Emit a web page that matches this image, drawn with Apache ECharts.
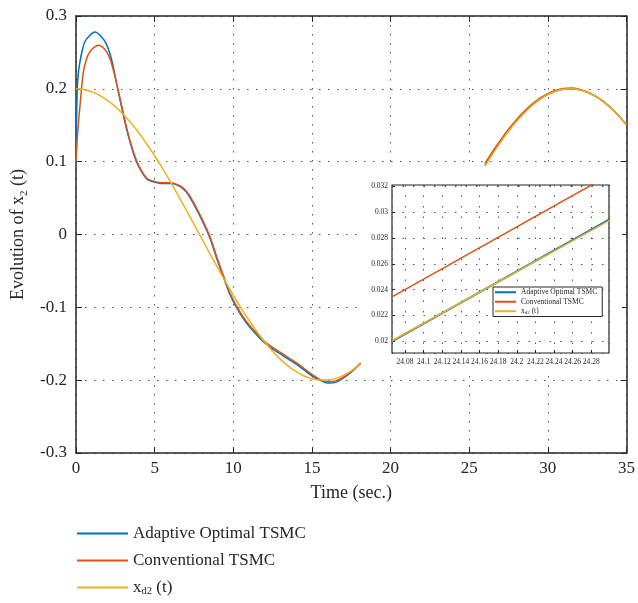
<!DOCTYPE html>
<html>
<head>
<meta charset="utf-8">
<script src="https://cdn.jsdelivr.net/npm/echarts@6/dist/echarts.min.js"></script>
<style>html,body{margin:0;padding:0;background:#fff;}#c{width:638px;height:603px;}</style>
</head>
<body>
<div id="c"></div>
<script>
// ---- data ----
const seriesNames = ['Adaptive Optimal TSMC', 'Conventional TSMC', 'x_d2(t)'];
const xTicks = [0, 5, 10, 15, 20, 25, 30, 35];
const yTicks = [-0.3, -0.2, -0.1, 0, 0.1, 0.2, 0.3];

// main plot, first visible segment (t = 0 .. 18.1)
const adaptiveA = [[0,0.100],[0.03,0.150],[0.08,0.200],[0.15,0.222],[0.25,0.237],[0.4,0.253],[0.57,0.265],[0.9,0.274],[1.2,0.278],[1.6,0.272],[1.94,0.261],[2.3,0.237],[2.6,0.205],[2.9,0.175],[3.2,0.146],[3.5,0.122],[3.84,0.100],[4.15,0.087],[4.47,0.077],[4.8,0.073],[5.3,0.0705],[5.8,0.070],[6.2,0.0695],[6.5,0.067],[6.8,0.063],[7.1,0.056],[7.4,0.045],[7.7,0.033],[8.0,0.020],[8.5,-0.004],[9.0,-0.036],[9.4,-0.060],[9.8,-0.083],[10.2,-0.100],[10.6,-0.114],[11.0,-0.126],[11.5,-0.138],[12.0,-0.149],[12.5,-0.157],[13.0,-0.164],[13.5,-0.171],[14.0,-0.178],[14.5,-0.186],[15.0,-0.194],[15.5,-0.200],[16.0,-0.204],[16.5,-0.203],[17.0,-0.197],[17.5,-0.189],[18.1,-0.177]];
const conventionalA = [[0,0.100],[0.1,0.138],[0.25,0.176],[0.46,0.222],[0.7,0.243],[0.89,0.251],[1.15,0.257],[1.45,0.260],[1.8,0.255],[2.15,0.242],[2.5,0.215],[2.9,0.177],[3.2,0.148],[3.5,0.124],[3.84,0.102],[4.15,0.088],[4.47,0.078],[4.8,0.074],[5.3,0.0715],[5.8,0.071],[6.2,0.0705],[6.5,0.068],[6.8,0.064],[7.1,0.057],[7.4,0.047],[7.7,0.035],[8.0,0.022],[8.5,-0.002],[9.0,-0.034],[9.4,-0.058],[9.8,-0.081],[10.2,-0.098],[10.6,-0.112],[11.0,-0.124],[11.5,-0.136],[12.0,-0.147],[12.5,-0.155],[13.0,-0.162],[13.5,-0.169],[14.0,-0.176],[14.5,-0.184],[15.0,-0.192],[15.5,-0.199],[16.0,-0.202],[16.5,-0.201],[17.0,-0.196],[17.5,-0.188],[18.1,-0.176]];
const desiredA = [[0,0.200],[0.5,0.199],[1,0.196],[1.5,0.1911],[2,0.1842],[2.5,0.1755],[3,0.1651],[3.5,0.1530],[4,0.1393],[4.5,0.1243],[5,0.1081],[5.5,0.0907],[6,0.0725],[6.5,0.0535],[7,0.0340],[7.5,0.0141],[8,-0.0058],[8.5,-0.0258],[9,-0.0454],[9.5,-0.0647],[10,-0.0832],[10.5,-0.1010],[11,-0.1177],[11.5,-0.1333],[12,-0.1475],[12.5,-0.1602],[13,-0.1714],[13.5,-0.1808],[14,-0.1884],[14.5,-0.1942],[15,-0.1980],[15.5,-0.1998],[16,-0.1997],[16.5,-0.1975],[17,-0.1934],[17.5,-0.1873],[18.1,-0.1772]];

// main plot, second visible segment (t = 26 .. 35)
const adaptiveB = [[26,0.095],[26.5,0.1125],[27,0.128],[27.5,0.1428],[28,0.156],[28.5,0.1677],[29,0.1777],[29.5,0.186],[30,0.1923],[30.5,0.1969],[31,0.1994],[31.5,0.2001],[32,0.1986],[32.5,0.1953],[33,0.1900],[33.5,0.1829],[34,0.1739],[34.5,0.1631],[35,0.1508]];
const conventionalB = [[26,0.0975],[26.5,0.1145],[27,0.1300],[27.5,0.1445],[28,0.1577],[28.5,0.1692],[29,0.1790],[29.5,0.1872],[30,0.1935],[30.5,0.1980],[31,0.2005],[31.5,0.2010],[32,0.1993],[32.5,0.1958],[33,0.1903],[33.5,0.1831],[34,0.1740],[34.5,0.1632],[35,0.1508]];
const desiredB = [[26,0.0937],[26.5,0.1109],[27,0.1269],[27.5,0.1417],[28,0.1551],[28.5,0.1669],[29,0.1771],[29.5,0.1855],[30,0.1920],[30.5,0.1967],[31,0.1993],[31.5,0.2000],[32,0.1986],[32.5,0.1953],[33,0.1900],[33.5,0.1829],[34,0.1739],[34.5,0.1631],[35,0.1508]];

// zoomed inset (t = 24.066 .. 24.299)
const insetXTicks = [24.08, 24.1, 24.12, 24.14, 24.16, 24.18, 24.2, 24.22, 24.24, 24.26, 24.28];
const insetYTicks = [0.02, 0.022, 0.024, 0.026, 0.028, 0.03, 0.032];
const adaptiveInset = [[24.066,0.02000],[24.30,0.02945]];
const conventionalInset = [[24.066,0.02345],[24.30,0.03290]];
const desiredInset = [[24.066,0.02005],[24.30,0.02938]];

// ---- chart ----
const colors = ['#0072BD', '#D95319', '#EDB120'];
const FONT = '"Liberation Serif", "Times New Roman", "DejaVu Serif", serif';
const INK = '#262626';
const gap = [[22, '-']];
function joined(a, b) { return a.concat(gap, b); }

const chart = echarts.init(document.getElementById('c'), null, { renderer: 'canvas' });

const gridLine = { show: true, lineStyle: { color: '#555', type: [1.5, 7.5], width: 1 } };
const insetGridLine = { show: true, lineStyle: { color: '#555', type: [1.5, 9], width: 1 } };
const mainAxisLine = { show: true, onZero: false, lineStyle: { color: INK, width: 1.5 } };
const mainTick = { show: true, inside: true, length: 6, lineStyle: { color: INK, width: 1 } };

function legendFormatter() {
  return function (name) {
    if (name === 'x_d2(t)') return '{a|x}{s|d2}{a| (t)}';
    return '{a|' + name + '}';
  };
}

const option = {
  backgroundColor: '#fff',
  animation: false,
  color: colors,
  textStyle: { fontFamily: FONT },
  grid: [
    { left: 76, right: 9, top: 16, bottom: 150, containLabel: false },
    { left: 392, right: 29, top: 185, bottom: 250, show: true, z: 4,
      backgroundColor: '#fff', borderColor: INK, borderWidth: 1.2 }
  ],
  graphic: {
    elements: [{ type: 'rect', z: 3, zlevel: 0,
      shape: { x: 363, y: 167, width: 259, height: 204 },
      style: { fill: '#fff' } }]
  },
  xAxis: [
    { type: 'value', gridIndex: 0, position: 'bottom', min: xTicks[0], max: xTicks[xTicks.length - 1], interval: 5,
      axisLine: mainAxisLine, axisTick: mainTick,
      axisLabel: { color: INK, fontSize: 17, fontFamily: FONT, margin: 7 },
      splitLine: gridLine,
      name: 'Time (sec.)', nameLocation: 'middle', nameGap: 31,
      nameTextStyle: { color: INK, fontSize: 18, fontFamily: FONT } },
    { type: 'value', gridIndex: 0, position: 'top', min: xTicks[0], max: xTicks[xTicks.length - 1], interval: 5,
      axisLine: mainAxisLine, axisTick: mainTick, axisLabel: { show: false }, splitLine: { show: false } },
    { type: 'value', gridIndex: 1, position: 'bottom', min: 24.066, max: 24.299, splitNumber: 12, z: 5,
      axisLine: { show: false },
      axisTick: { show: true, inside: true, length: 3, lineStyle: { color: INK } },
      axisLabel: { color: INK, fontSize: 7.5, fontFamily: FONT, margin: 5, showMinLabel: false, showMaxLabel: false },
      splitLine: insetGridLine }
  ],
  yAxis: [
    { type: 'value', gridIndex: 0, position: 'left', min: yTicks[0], max: yTicks[yTicks.length - 1], interval: 0.1,
      axisLine: mainAxisLine, axisTick: mainTick,
      axisLabel: { color: INK, fontSize: 17, fontFamily: FONT, margin: 9 },
      splitLine: gridLine,
      name: '{a|Evolution of x}{s|2}{a| (t)}', nameLocation: 'middle', nameGap: 45, nameRotate: 90,
      nameTextStyle: { color: INK, fontFamily: FONT,
        rich: { a: { fontSize: 18, fontFamily: FONT, color: INK, lineHeight: 22 },
                s: { fontSize: 11, fontFamily: FONT, color: INK, lineHeight: 12, verticalAlign: 'bottom' } } } },
    { type: 'value', gridIndex: 0, position: 'right', min: yTicks[0], max: yTicks[yTicks.length - 1], interval: 0.1,
      axisLine: mainAxisLine, axisTick: mainTick, axisLabel: { show: false }, splitLine: { show: false } },
    { type: 'value', gridIndex: 1, position: 'left', min: 0.0191, max: 0.0321, splitNumber: 6, z: 5,
      axisLine: { show: false },
      axisTick: { show: true, inside: true, length: 3, lineStyle: { color: INK } },
      axisLabel: { color: INK, fontSize: 7.5, fontFamily: FONT, margin: 4, showMinLabel: false, showMaxLabel: false },
      splitLine: insetGridLine }
  ],
  legend: [
    { data: seriesNames, orient: 'vertical', left: 77, top: 524, padding: 0, itemGap: 8,
      icon: 'rect', itemWidth: 51, itemHeight: 2, z: 10,
      formatter: legendFormatter(),
      textStyle: { color: INK, fontFamily: FONT, fontSize: 17, lineHeight: 19,
        rich: { a: { fontSize: 17, fontFamily: FONT, color: INK, lineHeight: 19 },
                s: { fontSize: 10.5, fontFamily: FONT, color: INK, lineHeight: 10, verticalAlign: 'bottom' } } } },
    { data: seriesNames, orient: 'vertical', left: 493, top: 287, padding: [1, 5, 1, 2], itemGap: 1,
      icon: 'rect', itemWidth: 21, itemHeight: 2, z: 10, backgroundColor: '#fff', borderColor: INK, borderWidth: 1,
      formatter: legendFormatter(),
      textStyle: { color: INK, fontFamily: FONT, fontSize: 7.5, lineHeight: 8.5,
        rich: { a: { fontSize: 7.5, fontFamily: FONT, color: INK, lineHeight: 8.5 },
                s: { fontSize: 5, fontFamily: FONT, color: INK, lineHeight: 5, verticalAlign: 'bottom' } } } }
  ],
  series: [
    { name: seriesNames[0], type: 'line', xAxisIndex: 0, yAxisIndex: 0, data: joined(adaptiveA, adaptiveB),
      showSymbol: false, symbol: 'none', smooth: 0.3, connectNulls: false, lineStyle: { width: 1.5, color: colors[0] }, itemStyle: { color: colors[0] }, z: 2 },
    { name: seriesNames[1], type: 'line', xAxisIndex: 0, yAxisIndex: 0, data: joined(conventionalA, conventionalB),
      showSymbol: false, symbol: 'none', smooth: 0.3, connectNulls: false, lineStyle: { width: 1.5, color: colors[1] }, itemStyle: { color: colors[1] }, z: 2 },
    { name: seriesNames[2], type: 'line', xAxisIndex: 0, yAxisIndex: 0, data: joined(desiredA, desiredB),
      showSymbol: false, symbol: 'none', smooth: 0.3, connectNulls: false, lineStyle: { width: 1.5, color: colors[2] }, itemStyle: { color: colors[2] }, z: 2 },
    { name: seriesNames[0], type: 'line', xAxisIndex: 2, yAxisIndex: 2, data: adaptiveInset,
      showSymbol: false, symbol: 'none', clip: true, lineStyle: { width: 2, color: colors[0] }, itemStyle: { color: colors[0] }, z: 6 },
    { name: seriesNames[1], type: 'line', xAxisIndex: 2, yAxisIndex: 2, data: conventionalInset,
      showSymbol: false, symbol: 'none', clip: true, lineStyle: { width: 1.5, color: colors[1] }, itemStyle: { color: colors[1] }, z: 6 },
    { name: seriesNames[2], type: 'line', xAxisIndex: 2, yAxisIndex: 2, data: desiredInset,
      showSymbol: false, symbol: 'none', clip: true, lineStyle: { width: 1.5, color: colors[2] }, itemStyle: { color: colors[2] }, z: 6 }
  ]
};
chart.setOption(option);
</script>
</body>
</html>
